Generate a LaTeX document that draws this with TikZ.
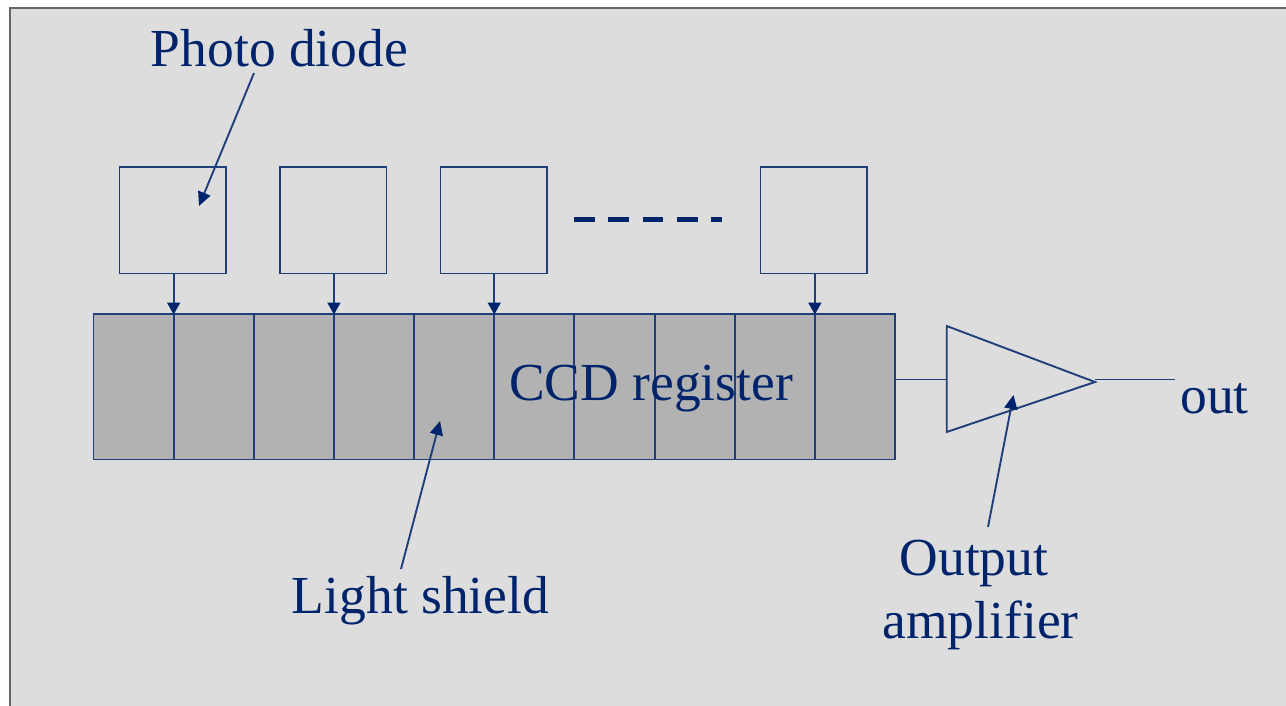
\documentclass[tikz,border=0pt]{standalone}
\usepackage{fontspec}
\setmainfont{Liberation Serif}
\usetikzlibrary{arrows.meta}
\definecolor{navy}{HTML}{00246B}
\definecolor{linec}{HTML}{1F3F7A}
\definecolor{bgc}{HTML}{DDDDDD}
\definecolor{cellc}{HTML}{B2B2B2}
\definecolor{framec}{HTML}{666666}
\tikzset{
  x=1pt,y=-1pt,
  lbl/.style={text=navy,font=\fontsize{53.5}{63}\selectfont,inner sep=0pt,anchor=base},
  diode/.style={draw=linec,line width=1.9pt,minimum width=106.5pt,minimum height=106.5pt,inner sep=0pt,outer sep=0pt,anchor=north west},
  cell/.style={draw=linec,line width=1.9pt,fill=cellc,minimum width=80.15pt,minimum height=145.5pt,inner sep=0pt,outer sep=0pt,anchor=north west},
  wire/.style={draw=linec,line width=1.9pt},
  feed/.style={wire,-{Triangle[length=12pt,width=13pt,color=navy]},shorten >=-0.5pt},
  callout/.style={wire,-{Triangle[length=14pt,width=13pt,color=navy]}},
}
\begin{document}
\begin{tikzpicture}
\useasboundingbox (0,0) rectangle (1286,706);
\fill[white] (0,0) rectangle (1286,706);
\fill[bgc] (10,8) rectangle (1286,706);
\draw[framec,line width=1.5pt] (10,706) -- (10,8) -- (1286,8);
% register cells
\foreach \i in {1,...,10}
  \node[cell] (c\i) at ({93.5+80.15*(\i-1)},314) {};
% diodes
\node[diode] (d1) at (119.5,167) {};
\node[diode] (d2) at (280,167) {};
\node[diode] (d3) at (440.5,167) {};
\node[diode] (d4) at (760.5,167) {};
\draw[feed] (c1.north east |- d1.south) -- (c1.north east);
\draw[feed] (c3.north east |- d2.south) -- (c3.north east);
\draw[feed] (c5.north east |- d3.south) -- (c5.north east);
\draw[feed] (c9.north east |- d4.south) -- (c9.north east);
% dashes
\coordinate (ds) at (574,219);
\coordinate (de) at (722,219);
\draw[navy,line width=5pt,dash pattern=on 20.7pt off 13.6pt] (ds) -- (de);
% amplifier
\coordinate (atop) at (946.7,326);
\coordinate (abot) at (946.7,432);
\coordinate (aapex) at (1095,382);
\draw[wire,line join=miter] (atop) -- (aapex) -- (abot) -- cycle;
\coordinate (ain) at (946.7,379.5);
\coordinate (aout) at (1095,379.5);
\coordinate (oend) at (1175,379.5);
\draw[wire] (c10.east |- ain) -- (ain);
\draw[wire] (aout) -- (oend);
% labels
\node[lbl] (lp) at (279.5,66.5) {Photo diode};
\node[lbl] (lc) at (651,400) {CCD register};
\node[lbl] (ll) at (420.5,613.5) {Light shield};
\node[lbl] (lo) at (1214.5,413) {out};
\node[lbl] (la1) at (974,575) {Output};
\node[lbl] (la2) at (980.5,638) {amplifier};
% callouts
\coordinate (pa) at (254,73);
\coordinate (pb) at (199,206);
\coordinate (sa) at (401,569);
\coordinate (sb) at (440,421);
\coordinate (oa) at (988,527);
\coordinate (ob) at (1013.5,395);
\draw[callout] (pa) -- (pb);
\draw[callout] (sa) -- (sb);
\draw[callout] (oa) -- (ob);
\end{tikzpicture}
\end{document}
